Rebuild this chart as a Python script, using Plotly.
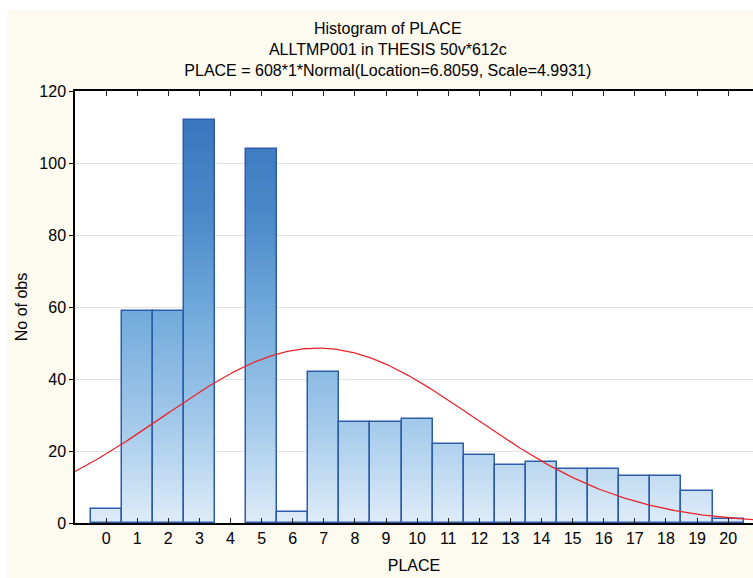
import numpy as np
import plotly.graph_objects as go

# Histogram bins (PLACE values) and their counts
places = list(range(0, 21))
counts = [4, 59, 59, 112, 0, 104, 3, 42, 28, 28, 29, 22, 19, 16, 17, 15, 15, 13, 13, 9, 1]
tick_labels = [str(p) for p in places]

# Fitted normal parameters quoted in the title
N_OBS = 608
BIN_WIDTH = 1
LOCATION = 6.8059
SCALE = 4.9931

X_RANGE = [-1, 20.8]
Y_RANGE = [0, 120]

FONT = "Arial, Liberation Sans, sans-serif"
CREAM = "#FDFAF0"

# vertical colour ramp used to shade the bars (value level -> rgb)
ramp_levels = [0, 28, 56, 84, 112, 120]
ramp_rgb = [(222, 236, 249), (163, 201, 234), (117, 173, 220),
            (76, 138, 202), (58, 118, 190), (54, 112, 186)]


def ramp(v):
    r = np.interp(v, ramp_levels, [c[0] for c in ramp_rgb])
    g = np.interp(v, ramp_levels, [c[1] for c in ramp_rgb])
    b = np.interp(v, ramp_levels, [c[2] for c in ramp_rgb])
    return f"rgb({int(round(r))},{int(round(g))},{int(round(b))})"


# split every bar into unit slices so the fill can follow the ramp
seg_x, seg_base, seg_h, seg_col = [], [], [], []
for p, c in zip(places, counts):
    for k in range(c):
        seg_x.append(p)
        seg_base.append(k)
        seg_h.append(1)
        seg_col.append(ramp(k + 0.5))

fig = go.Figure()

fig.add_trace(go.Bar(
    x=seg_x, y=seg_h, base=seg_base, width=BIN_WIDTH,
    marker=dict(color=seg_col, line=dict(width=0)),
    hoverinfo="skip", showlegend=False,
))

# bar outlines
fig.add_trace(go.Bar(
    x=places, y=[c if c > 0 else None for c in counts], width=BIN_WIDTH,
    marker=dict(color="rgba(0,0,0,0)", line=dict(color="#2C5DAB", width=1.5)),
    showlegend=False, name="PLACE",
))

# expected counts under the fitted normal
xs = np.linspace(X_RANGE[0], X_RANGE[1], 400)
ys = N_OBS * BIN_WIDTH * np.exp(-0.5 * ((xs - LOCATION) / SCALE) ** 2) / (SCALE * np.sqrt(2 * np.pi))
fig.add_trace(go.Scatter(
    x=xs, y=ys, mode="lines",
    line=dict(color="#E8262E", width=1.3),
    showlegend=False, hoverinfo="skip",
))

fig.update_layout(
    width=753, height=578,
    margin=dict(l=75, r=0, t=91, b=55),
    paper_bgcolor=CREAM,
    plot_bgcolor="white",
    barmode="overlay",
    bargap=0,
    font=dict(family=FONT, size=16, color="black"),
    title=dict(
        text="Histogram of PLACE<br>ALLTMP001 in THESIS 50v*612c<br>"
             "PLACE = 608*1*Normal(Location=6.8059, Scale=4.9931)",
        x=0.515, xref="container", xanchor="center",
        y=1 - 34 / 578, yref="container", yanchor="top",
        font=dict(family=FONT, size=16, color="black"),
    ),
    xaxis=dict(
        range=X_RANGE,
        tickmode="array", tickvals=places, ticktext=tick_labels,
        ticks="inside", ticklen=5, tickwidth=1, tickcolor="#222",
        showline=True, linecolor="black", linewidth=1.5,
        mirror="ticks",
        showgrid=False, zeroline=False,
        title=dict(text="PLACE", standoff=14, font=dict(size=16)),
        tickfont=dict(size=16),
    ),
    yaxis=dict(
        range=Y_RANGE, dtick=20,
        ticks="outside", ticklen=4, tickwidth=1, tickcolor="black",
        showline=True, linecolor="black", linewidth=1.5,
        showgrid=True, gridcolor="#E4E4E4", gridwidth=1,
        zeroline=False,
        title=dict(text="No of obs", standoff=8, font=dict(size=16)),
        tickfont=dict(size=16),
    ),
    shapes=[
        # white frame strips along the top and left edges
        dict(type="rect", xref="paper", yref="paper", layer="below",
             x0=-75 / 678, x1=-68 / 678, y0=-55 / 432, y1=(432 + 91) / 432,
             fillcolor="white", line=dict(width=0)),
        dict(type="rect", xref="paper", yref="paper", layer="below",
             x0=-75 / 678, x1=1, y0=(432 + 81) / 432, y1=(432 + 91) / 432,
             fillcolor="white", line=dict(width=0)),
    ],
)

fig.write_html("out.html")
